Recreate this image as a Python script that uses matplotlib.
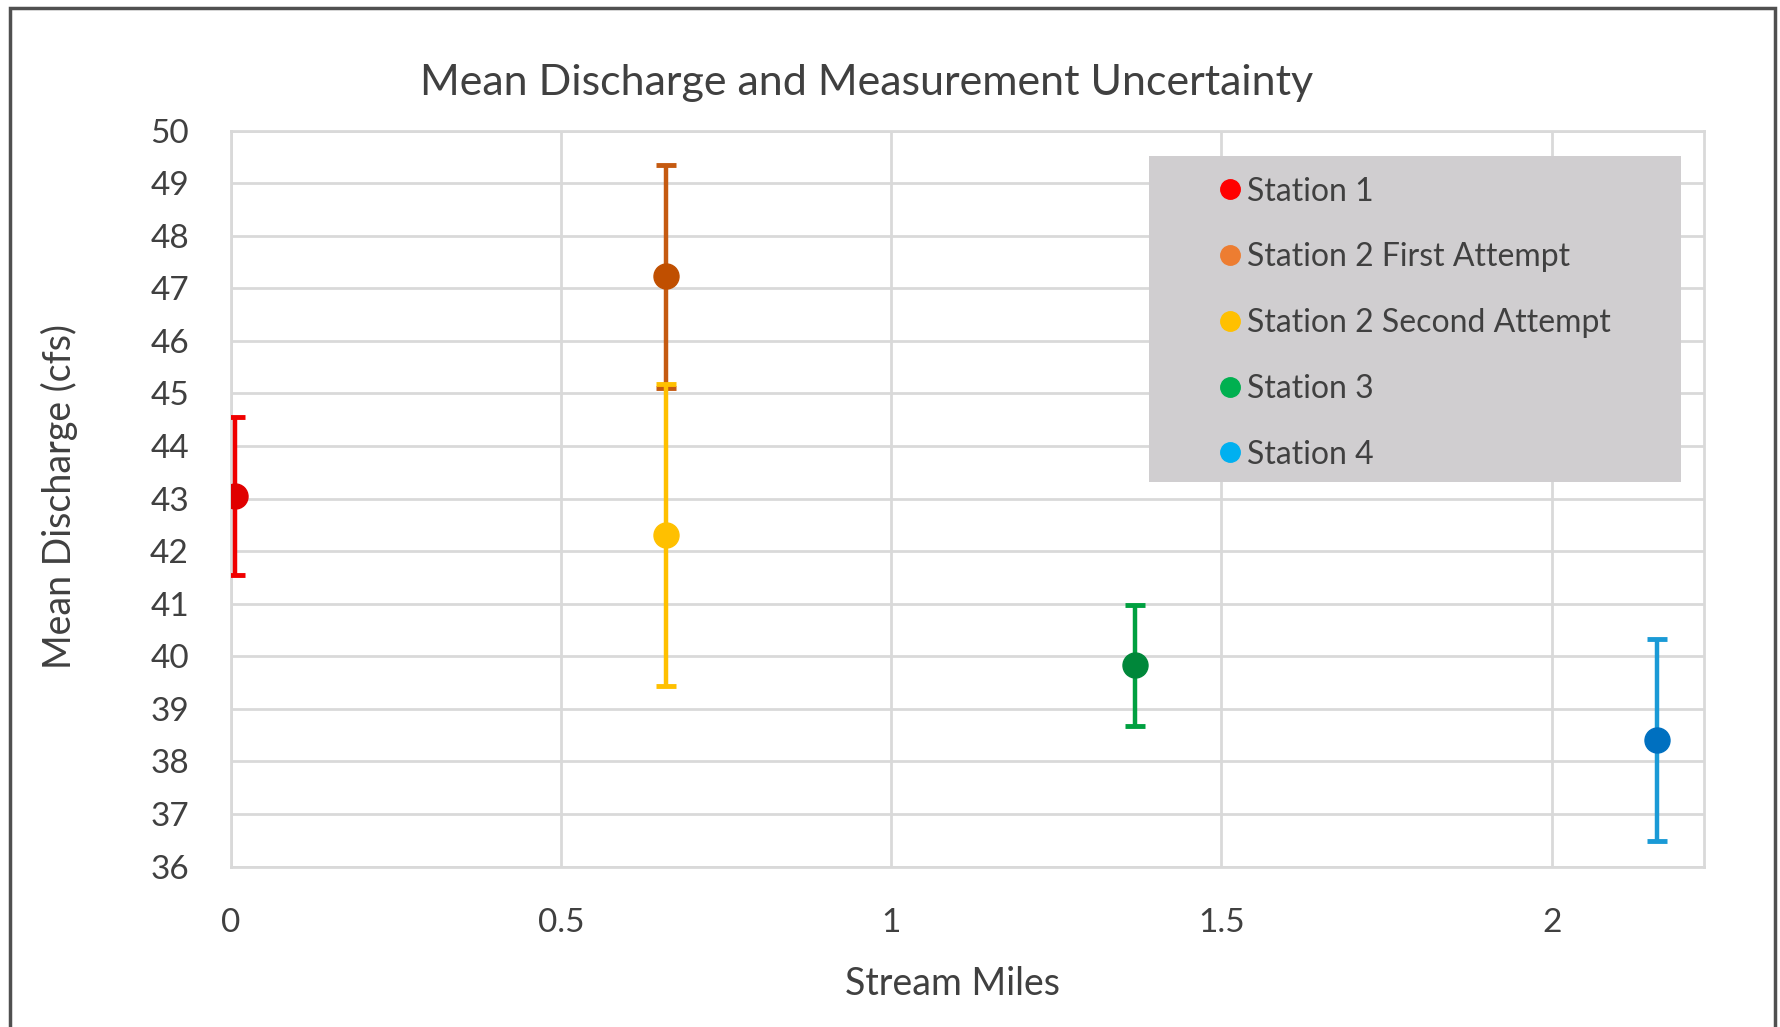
import matplotlib
matplotlib.use('Agg')
import matplotlib.pyplot as plt
from matplotlib.lines import Line2D
from matplotlib.patches import Rectangle

plt.rcParams['font.family'] = ['Lato', 'DejaVu Sans']

# data
stations = ['Station 1', 'Station 2 First Attempt', 'Station 2 Second Attempt',
            'Station 3', 'Station 4']
stream_miles = [0.007, 0.659, 0.659, 1.369, 2.16]
mean_discharge = [43.05, 47.23, 42.31, 39.83, 38.40]
uncertainty = [1.5, 2.12, 2.87, 1.15, 1.92]

# plot colours (marker, bar) and the lighter legend colours
marker_colors = ['#E00000', '#C04F00', '#FFC000', '#00873A', '#0070C0']
bar_colors = ['#F00000', '#C55A11', '#FFC000', '#00A040', '#1A9AD6']
legend_colors = ['#FF0000', '#ED7D31', '#FFC000', '#00B050', '#00B0F0']

text_col = '#404040'
grid_col = '#D9D9D9'

fig = plt.figure(figsize=(17.81, 10.27), dpi=100)
ax = fig.add_axes([0.1295, 0.1562, 0.8271, 0.7166])

for i in range(len(stations)):
    ax.errorbar(stream_miles[i], mean_discharge[i], yerr=uncertainty[i],
                fmt='o', color=marker_colors[i], ecolor=bar_colors[i],
                markersize=18, elinewidth=3.2, capsize=7, capthick=3.5, zorder=4)

ax.set_xlim(0, 2.23)
ax.set_ylim(36, 50)
ax.set_xticks([0, 0.5, 1, 1.5, 2])
ax.set_xticklabels(['0', '0.5', '1', '1.5', '2'])
ax.set_yticks(range(36, 51))
ax.tick_params(length=0, labelsize=24, colors=text_col)
ax.tick_params(axis='x', pad=30)
ax.tick_params(axis='y', pad=30)
ax.grid(True, color=grid_col, linewidth=2)
ax.set_axisbelow(True)
for s in ax.spines.values():
    s.set_color(grid_col)
    s.set_linewidth(2)

ax.set_title('Mean Discharge and Measurement Uncertainty', fontsize=31,
             color=text_col, pad=26, x=0.4317)
ax.set_xlabel('Stream Miles', fontsize=27, color=text_col, va='center')
ax.xaxis.set_label_coords(0.49, -0.159)
ax.set_ylabel('Mean Discharge (cfs)', fontsize=27, color=text_col,
              va='center', ha='center')
ax.yaxis.set_label_coords(-0.1165, 0.5035)

# grey legend panel
ax.add_patch(Rectangle((0.6235, 0.5226), 0.361, 0.443, transform=ax.transAxes,
                       facecolor='#D0CED0', edgecolor='none', zorder=3))
handles = [Line2D([], [], marker='o', linestyle='none', color=c, markersize=14)
           for c in legend_colors]
leg = ax.legend(handles, stations, loc='upper left', bbox_to_anchor=(0.664, 0.955),
                frameon=False, fontsize=23, labelspacing=1.12, handlelength=0.5,
                handletextpad=0.3, borderaxespad=0)
for t in leg.get_texts():
    t.set_color(text_col)
leg.set_zorder(5)

# outer chart border
fig.patches.append(Rectangle((10 / 1781, -0.05), 1765 / 1781, 1 - 8 / 1027 + 0.05,
                             transform=fig.transFigure, facecolor='none',
                             edgecolor='#505050', linewidth=2.5))

fig.savefig('out.png', dpi=100)
